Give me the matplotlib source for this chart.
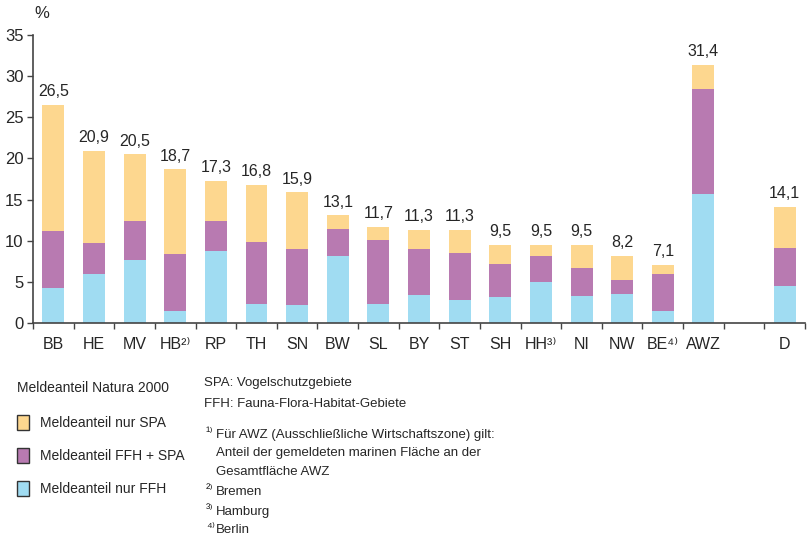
import matplotlib
matplotlib.use("Agg")
import matplotlib.pyplot as plt
from matplotlib.patches import Patch

plt.rcParams['font.family'] = ['Liberation Sans', 'DejaVu Sans']

categories = ['BB', 'HE', 'MV', 'HB²⁾', 'RP', 'TH', 'SN', 'BW', 'SL', 'BY', 'ST',
              'SH', 'HH³⁾', 'NI', 'NW', 'BE⁴⁾', 'AWZ', 'D']
positions = [0, 1, 2, 3, 4, 5, 6, 7, 8, 9, 10, 11, 12, 13, 14, 15, 16, 18]
totals = [26.5, 20.9, 20.5, 18.7, 17.3, 16.8, 15.9, 13.1, 11.7, 11.3, 11.3,
          9.5, 9.5, 9.5, 8.2, 7.1, 31.4, 14.1]
ffh_only = [4.3, 6.0, 7.7, 1.5, 8.8, 2.35, 2.2, 8.2, 2.35, 3.45, 2.85,
            3.1, 5.0, 3.3, 3.55, 1.4, 15.7, 4.5]
ffh_spa = [6.9, 3.75, 4.7, 6.9, 3.6, 7.55, 6.8, 3.25, 7.75, 5.55, 5.7,
           4.1, 3.2, 3.4, 1.7, 4.6, 12.75, 4.65]
spa_only = [t - a - b for t, a, b in zip(totals, ffh_only, ffh_spa)]
total_labels = ['26,5', '20,9', '20,5', '18,7', '17,3', '16,8', '15,9', '13,1', '11,7',
                '11,3', '11,3', '9,5', '9,5', '9,5', '8,2', '7,1', '31,4', '14,1']
yticks = [0, 5, 10, 15, 20, 25, 30, 35]

c_spa = '#FDD78F'
c_both = '#B87AB1'
c_ffh = '#A0DCF2'
txt = '#262626'

fig = plt.figure(figsize=(8.07, 5.37), dpi=100)
ax = fig.add_axes([0.041, 0.3985, 0.9565, 0.5365])

w = 0.54
ax.bar(positions, ffh_only, w, color=c_ffh, linewidth=0)
ax.bar(positions, ffh_spa, w, bottom=ffh_only, color=c_both, linewidth=0)
bottoms = [a + b for a, b in zip(ffh_only, ffh_spa)]
ax.bar(positions, spa_only, w, bottom=bottoms, color=c_spa, linewidth=0)

for x, t, lab in zip(positions, totals, total_labels):
    ax.annotate(lab, (x, t), xytext=(0, 4), textcoords='offset points',
                ha='center', va='bottom', fontsize=11.5, color=txt)

ax.set_xlim(-0.5, 18.5)
ax.set_ylim(0, 35)
ax.set_yticks(yticks)
ax.tick_params(axis='y', direction='out', length=4, width=1, colors='#444444',
               labelcolor=txt, labelsize=12, pad=3)

# boundaries as major ticks, labels at centers as minor ticks
ax.set_xticks([i - 0.5 for i in range(20)])
ax.set_xticklabels([])
ax.set_xticks(positions, minor=True)
ax.set_xticklabels(categories, minor=True)
ax.tick_params(axis='x', which='major', direction='out', length=4, width=1, colors='#444444')
ax.tick_params(axis='x', which='minor', length=0, labelsize=11.5, labelcolor=txt, pad=10)

for s in ['top', 'right']:
    ax.spines[s].set_visible(False)
for s in ['left', 'bottom']:
    ax.spines[s].set_color('#444444')
    ax.spines[s].set_linewidth(1.2)

fig.text(0.043, 0.975, '%', fontsize=12, color=txt, va='center', ha='left')

# legend
handles = [Patch(facecolor=c_spa, edgecolor='#333333', linewidth=1),
           Patch(facecolor=c_both, edgecolor='#333333', linewidth=1),
           Patch(facecolor=c_ffh, edgecolor='#333333', linewidth=1)]
labels = ['Meldeanteil nur SPA', 'Meldeanteil FFH + SPA', 'Meldeanteil nur FFH']
leg = fig.legend(handles, labels, loc='upper left', bbox_to_anchor=(0.021, 0.290),
                 frameon=False, title='Meldeanteil Natura 2000', alignment='left',
                 fontsize=10, title_fontsize=10, handlelength=0.85, handleheight=1.35,
                 handletextpad=0.8, labelspacing=1.25, borderaxespad=0, borderpad=0)
for t in leg.get_texts():
    t.set_color(txt)
leg.get_title().set_color(txt)
leg._legend_box.sep = 14

fs = 9.5
xm = 0.255
xt = 0.268
fig.text(0.253, 0.287, 'SPA: Vogelschutzgebiete', fontsize=fs, color=txt, va='center')
fig.text(0.253, 0.248, 'FFH: Fauna-Flora-Habitat-Gebiete', fontsize=fs, color=txt, va='center')
fig.text(xm, 0.193, '¹⁾', fontsize=fs, color=txt, va='center')
fig.text(xt, 0.190, 'Für AWZ (Ausschließliche Wirtschaftszone) gilt:', fontsize=fs, color=txt, va='center')
fig.text(xt, 0.156, 'Anteil der gemeldeten marinen Fläche an der', fontsize=fs, color=txt, va='center')
fig.text(xt, 0.121, 'Gesamtfläche AWZ', fontsize=fs, color=txt, va='center')
fig.text(xm, 0.087, '²⁾', fontsize=fs, color=txt, va='center')
fig.text(xt, 0.084, 'Bremen', fontsize=fs, color=txt, va='center')
fig.text(xm, 0.050, '³⁾', fontsize=fs, color=txt, va='center')
fig.text(xt, 0.047, 'Hamburg', fontsize=fs, color=txt, va='center')
fig.text(xm, 0.016, '⁴⁾', fontsize=fs, color=txt, va='center')
fig.text(xt, 0.013, 'Berlin', fontsize=fs, color=txt, va='center')

fig.savefig('out.png', dpi=100)
